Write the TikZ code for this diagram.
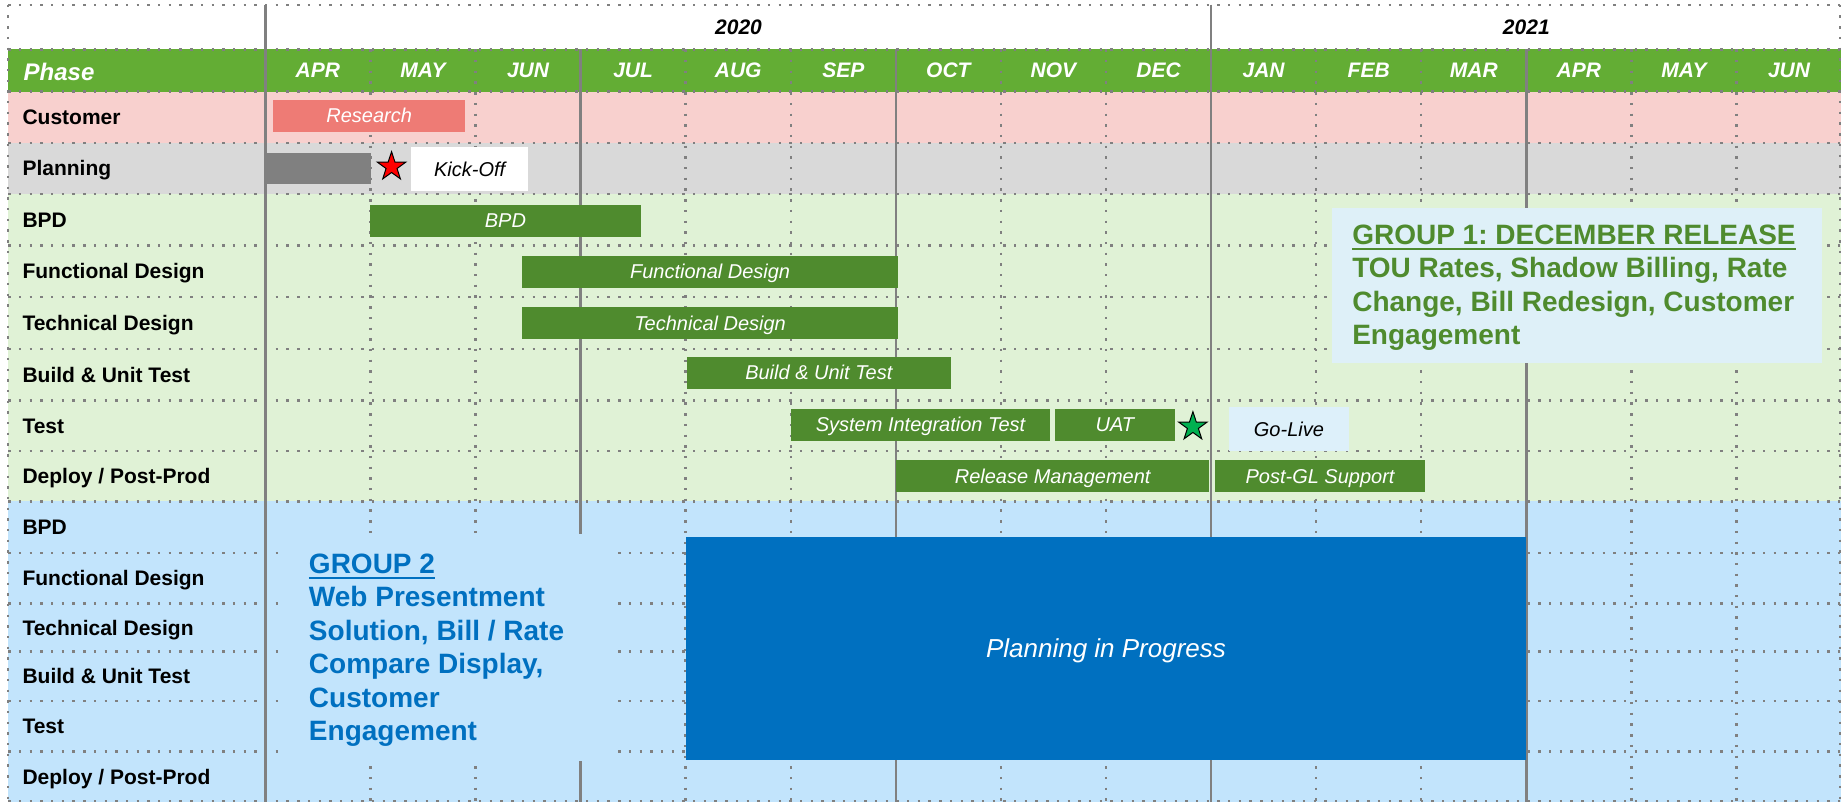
\documentclass[tikz,border=0pt]{standalone}
\usepackage{fontspec}
\setmainfont{Liberation Sans}
\usepackage{tikz}
\usetikzlibrary{shapes.geometric}

\definecolor{hdrgreen}{RGB}{99,173,52}
\definecolor{barGreen}{RGB}{79,139,46}
\definecolor{custpink}{RGB}{248,208,206}
\definecolor{plangray}{RGB}{217,217,217}
\definecolor{planbar}{RGB}{128,128,128}
\definecolor{grpone}{RGB}{224,242,214}
\definecolor{grptwo}{RGB}{194,228,252}
\definecolor{research}{RGB}{238,123,117}
\definecolor{golive}{RGB}{221,240,250}
\definecolor{groupbox}{RGB}{222,240,248}
\definecolor{progblue}{RGB}{0,112,192}
\definecolor{gridgray}{RGB}{128,128,128}
\definecolor{stargreen}{RGB}{0,176,80}

% one layout pixel
\newcommand{\px}{1.1741pt}
% underlined heading of a release block
\newcommand{\grouptitle}[1]{\vtop{\hbox{#1}\kern3pt\hrule height 2.4pt}}
\frenchspacing

\begin{document}
\begin{tikzpicture}[
            x = 1.1741pt, y = -1.1741pt, % pixel grid, y runs downwards
            dots/.style = {draw = gridgray, line width = 2.4pt, dash pattern = on 2.4pt off 8.3pt},
            quarter/.style = {draw = gridgray, line width = 2.6pt},
            rowlabel/.style = {anchor = west, inner sep = 0pt, text height = 15pt, text depth = 0pt,
                font = \fontsize{21}{25}\selectfont\bfseries},
            month/.style = {inner sep = 0pt, text = white, text height = 15pt, text depth = 0pt,
                font = \fontsize{21}{25}\selectfont\bfseries\itshape},
            year/.style = {month, text = black},
            box/.style = {inner sep = 0pt, text height = 14.3pt, text depth = 0pt,
                font = \fontsize{20}{24}\selectfont\itshape},
            bar/.style = {box, fill = barGreen, text = white, minimum height = 27*\px},
            milestone/.style = {star, star points = 5, star point ratio = 2.6, draw = black,
                line width = 1pt, inner sep = 0pt, minimum size = 30pt},
            blurb/.style = {anchor = north west, inner sep = 0pt, align = left,
                font = \fontsize{28}{33.5}\selectfont\bfseries}
        ]

        \useasboundingbox (0,0) rectangle (1568,683);

        % row bands
        \fill[white] (0,0) rectangle (1568,683);
        \fill[hdrgreen] (7,42) rectangle (1568,78);
        \fill[custpink] (7,78) rectangle (1568,122);
        \fill[plangray] (7,122) rectangle (1568,165);
        \fill[grpone] (7,165) rectangle (1568,427);
        \fill[grptwo] (7,427) rectangle (1568,683);

        % dotted grid
        \foreach \y in {4,42,78,122,165,209,253,297,341,384,427,471,514,555,597,640,682}
            \draw[dots] (7,\y) -- (1568,\y);
        \foreach \k in {1,2,4,5,7,8,10,11,13,14}
            \draw[dots] ({226+89.5*\k},42) -- ({226+89.5*\k},683);
        \draw[dots] (7,4) -- (7,683);
        \draw[dots] (1567,4) -- (1567,683);

        % quarter and year lines
        \foreach \x in {226,1031.5}
            \draw[quarter] (\x,4) -- (\x,683);
        \foreach \x in {494.5,763,1300}
            \draw[quarter] (\x,42) -- (\x,683);

        % header
        \node[year] (y2020) at (629,23) {2020};
        \node[year] (y2021) at (1300,23) {2021};
        \node[month, anchor = west, text height = 17pt,
            font = \fontsize{24}{28}\selectfont\bfseries\itshape] (phase) at (20,61) {Phase};
        \foreach \m [count = \i from 0] in {APR,MAY,JUN,JUL,AUG,SEP,OCT,NOV,DEC,JAN,FEB,MAR,APR,MAY,JUN}
            \node[month] (month\i) at ({270.75+89.5*\i},60) {\m};

        % phases
        \foreach \t/\y [count = \i] in {Customer/100, Planning/143.5, BPD/187,
                {Functional Design}/231, {Technical Design}/275, {Build \& Unit Test}/319,
                Test/362.5, {Deploy / Post-Prod}/405.5, BPD/449, {Functional Design}/492.5,
                {Technical Design}/534.5, {Build \& Unit Test}/576, Test/618.5,
                {Deploy / Post-Prod}/661.5}
            \node[rowlabel] (row\i) at (19,\y) {\t};

        % group 1 schedule
        \node[box, fill = research, text = white, minimum width = 163.3*\px,
            minimum height = 27*\px] (research) at (314.4,98.5) {Research};
        \node[box, fill = planbar, minimum width = 89*\px,
            minimum height = 26.4*\px] (prep) at (271.5,143.8) {};
        \node[milestone, fill = red] (kickstar) at (333.5,142) {};
        \node[box, fill = white, minimum width = 100*\px,
            minimum height = 37*\px] (kickoff) at (400,144) {Kick-Off};

        \node[bar, minimum width = 231*\px] (bpd) at (430.5,188) {BPD};
        \node[bar, minimum width = 320.5*\px] (funcdesign) at (604.8,231.5) {Functional Design};
        \node[bar, minimum width = 320.5*\px] (techdesign) at (604.8,275) {Technical Design};
        \node[bar, minimum width = 225.2*\px] (build) at (697.4,317.5) {Build \& Unit Test};
        \node[bar, minimum width = 220*\px] (sit) at (784,361.8) {System Integration Test};
        \node[bar, minimum width = 101.7*\px] (uat) at (949.5,361.8) {UAT};
        \node[milestone, fill = stargreen] (livestar) at (1016,363.4) {};
        \node[box, fill = golive, minimum width = 101.6*\px,
            minimum height = 37.2*\px] (golive) at (1097.8,365.3) {Go-Live};
        \node[bar, minimum width = 266.2*\px] (release) at (896.6,405.3) {Release Management};
        \node[bar, minimum width = 178.6*\px] (postgl) at (1124.3,405.3) {Post-GL Support};

        % release notes
        \node[fill = groupbox, inner sep = 0pt, minimum width = 417.5*\px,
            minimum height = 132*\px] (grp1box) at (1343.3,243) {};
        \node[blurb, text = barGreen] (grp1text) at (1151.6,191.2)
            {\grouptitle{GROUP 1: DECEMBER RELEASE}\\
            TOU Rates, Shadow Billing, Rate\\
            Change, Bill Redesign, Customer\\
            Engagement};

        \node[fill = grptwo, inner sep = 0pt, minimum width = 280*\px,
            minimum height = 193*\px] (grp2box) at (383,551.5) {};
        \node[blurb, text = progblue] (grp2text) at (263,471.5)
            {\grouptitle{GROUP 2}\\
            Web Presentment\\
            Solution, Bill / Rate\\
            Compare Display,\\
            Customer\\
            Engagement};

        \node[fill = progblue, text = white, inner sep = 0pt, minimum width = 716*\px,
            minimum height = 190*\px, text height = 18.6pt, text depth = 0pt,
            font = \fontsize{26}{31}\selectfont\itshape] (progress) at (942,552) {Planning in Progress};

    \end{tikzpicture}
\end{document}
